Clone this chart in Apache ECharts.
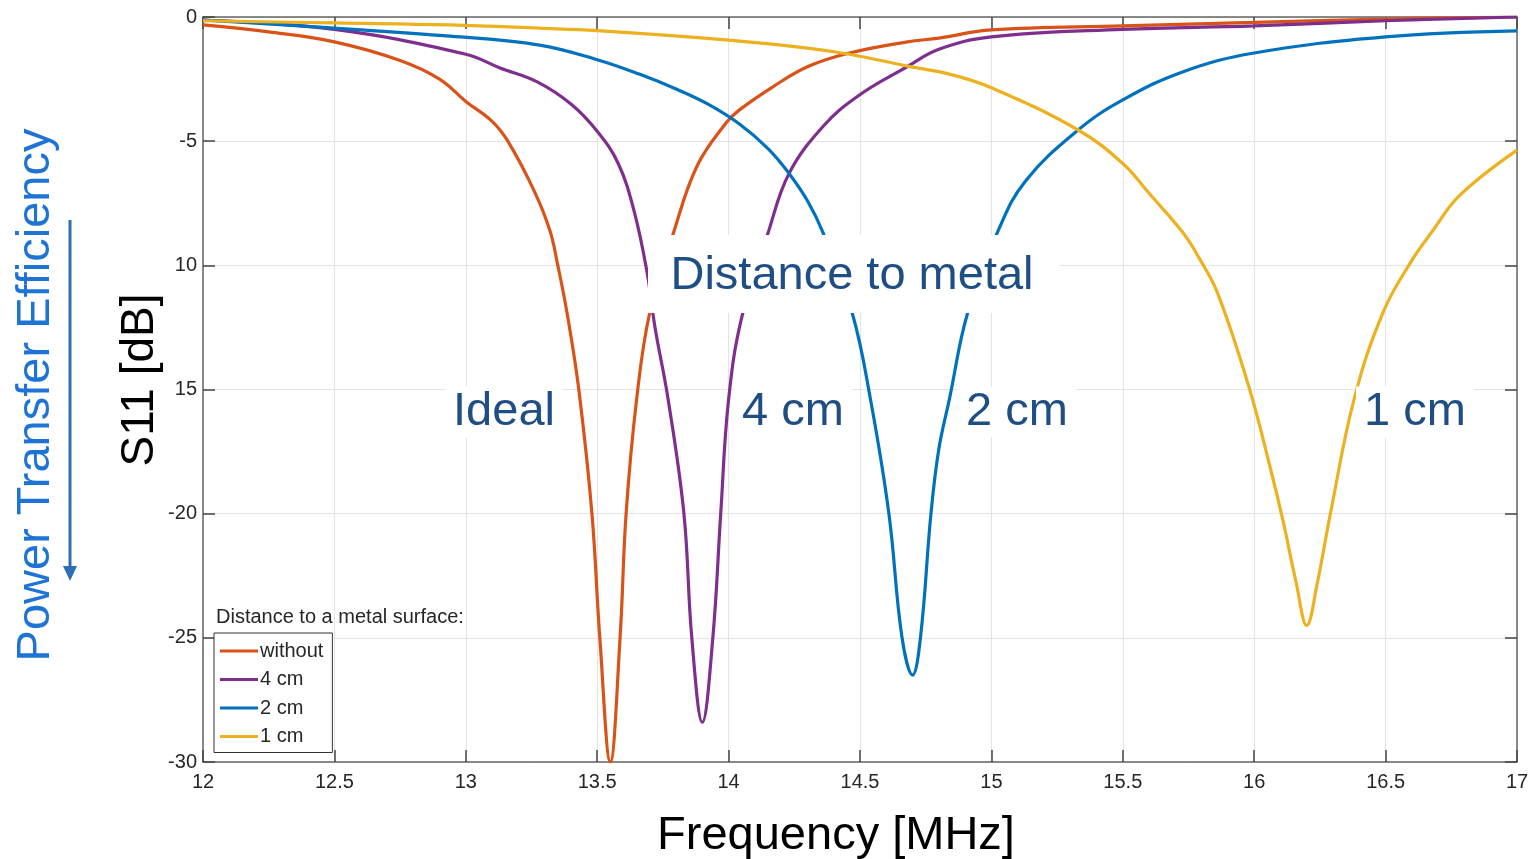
<!DOCTYPE html>
<html>
<head>
<meta charset="utf-8">
<script src="https://cdn.jsdelivr.net/npm/echarts@6/dist/echarts.min.js"></script>
<style>
  html, body { margin:0; padding:0; background:#fff; }
  #chart { width:1532px; height:859px; }
</style>
</head>
<body>
<div id="chart"></div>
<script>
// ticks
const xTickValues = [12, 12.5, 13, 13.5, 14, 14.5, 15, 15.5, 16, 16.5, 17]
const xTickLabels = ['12', '12.5', '13', '13.5', '14', '14.5', '15', '15.5', '16', '16.5', '17']
const yTickValues = [0, -5, -10, -15, -20, -25, -30]
const yTickLabels = ['0', '-5', '10', '15', '-20', '-25', '-30']

// without metal (ideal)
const freqWithout = [12.0, 12.25, 12.5, 12.75, 12.9, 13.0, 13.1, 13.16, 13.26, 13.32, 13.35, 13.385, 13.43, 13.48, 13.51, 13.55,
  13.587, 13.61, 13.65, 13.70, 13.79, 13.88, 13.99, 14.04, 14.17, 14.30, 14.46, 14.68, 14.80, 15.0, 15.5, 16.0, 16.5, 17.0]
const s11Without = [-0.32, -0.6, -1.0, -1.75, -2.5, -3.4, -4.2, -5.0, -7.0, -8.6, -10.0, -11.9, -15.0, -20.0, -25.0, -30.0,
  -25.0, -20.0, -15.4, -11.9, -8.7, -6.0, -4.27, -3.75, -2.8, -2.0, -1.45, -1.0, -0.85, -0.52, -0.36, -0.22, -0.08, 0]

// 4 cm
const freq4cm = [12.0, 12.5, 13.0, 13.13, 13.27, 13.4, 13.5, 13.58, 13.64, 13.69, 13.72, 13.77, 13.83, 13.86, 13.90,
  13.94, 13.97, 14.0, 14.05, 14.15, 14.23, 14.36, 14.49, 14.68, 14.80, 15.0, 15.5, 16.0, 16.5, 17.0]
const s11_4cm = [-0.12, -0.5, -1.5, -2.05, -2.6, -3.5, -4.6, -5.9, -7.8, -10.3, -12.5, -15.4, -20.0, -25.0, -28.4,
  -25.0, -20.0, -15.4, -12.1, -8.7, -6.3, -4.4, -3.2, -2.0, -1.3, -0.8, -0.5, -0.36, -0.15, 0]

// 2 cm
const freq2cm = [12.0, 12.5, 12.94, 13.28, 13.5, 13.66, 13.8, 13.92, 14.04, 14.15, 14.23, 14.30, 14.36, 14.47, 14.54, 14.61,
  14.66, 14.70, 14.73, 14.77, 14.80, 14.84, 14.91, 15.03, 15.13, 15.33, 15.5, 15.73, 16.0, 16.5, 17.0]
const s11_2cm = [-0.12, -0.45, -0.77, -1.13, -1.72, -2.3, -2.9, -3.5, -4.3, -5.3, -6.3, -7.4, -8.7, -11.9, -15.4, -20.0,
  -25.0, -26.5, -25.0, -20.0, -17.4, -15.4, -11.9, -8.5, -6.6, -4.55, -3.34, -2.2, -1.45, -0.8, -0.56]

// 1 cm
const freq1cm = [12.0, 12.5, 12.94, 13.28, 13.5, 14.0, 14.3, 14.46, 14.69, 14.84, 15.0, 15.33, 15.5, 15.6, 15.73, 15.79,
  15.86, 15.98, 16.06, 16.11, 16.16, 16.2, 16.24, 16.29, 16.38, 16.49, 16.6, 16.68, 16.78, 17.0]
const s11_1cm = [-0.15, -0.24, -0.32, -0.45, -0.55, -0.93, -1.25, -1.5, -2.0, -2.3, -2.85, -4.55, -5.9, -7.1, -8.7, -9.7,
  -11.1, -14.9, -18.1, -20.3, -22.8, -24.5, -22.8, -20.0, -15.4, -11.9, -9.8, -8.6, -7.2, -5.36]

const seriesNames = ['without', '4 cm', '2 cm', '1 cm']
const seriesColors = ['#D95319', '#7E2F8E', '#0072BD', '#EDB120']

const zip = (xs, ys) => xs.map((x, i) => [x, ys[i]])
const curves = [
  zip(freqWithout, s11Without),
  zip(freq4cm, s11_4cm),
  zip(freq2cm, s11_2cm),
  zip(freq1cm, s11_1cm)
]

const FONT = '"Liberation Sans", Arial, sans-serif'
const NOTE = '#1F4E85'

const chart = echarts.init(document.getElementById('chart'))

const axisCommon = {
  type: 'value',
  axisLine: { show: true, onZero: false, lineStyle: { color: '#666', width: 1.5 } },
  axisTick: { show: true, inside: true, length: 12, lineStyle: { color: '#444', width: 1.5 } }
}

chart.setOption({
  backgroundColor: '#fff',
  animation: false,
  grid: { left: 203, right: 15, top: 17, bottom: 97 },
  xAxis: [
    {
      ...axisCommon,
      min: 12, max: 17, interval: 0.5,
      axisLabel: {
        color: '#262626', fontSize: 20, fontFamily: FONT, margin: 10,
        showMinLabel: true, showMaxLabel: true,
        formatter: v => {
          const i = xTickValues.findIndex(t => Math.abs(t - v) < 1e-6)
          return i >= 0 ? xTickLabels[i] : ''
        }
      },
      splitLine: { show: true, lineStyle: { color: '#e3e3e3', width: 1 } }
    },
    {
      ...axisCommon,
      position: 'top',
      min: 12, max: 17, interval: 0.5,
      axisLabel: { show: false },
      splitLine: { show: false }
    }
  ],
  yAxis: [
    {
      ...axisCommon,
      min: -30, max: 0, interval: 5,
      axisLabel: {
        color: '#262626', fontSize: 20, fontFamily: FONT, margin: 6,
        formatter: v => {
          const i = yTickValues.findIndex(t => Math.abs(t - v) < 1e-6)
          return i >= 0 ? yTickLabels[i] : ''
        }
      },
      splitLine: { show: true, lineStyle: { color: '#e3e3e3', width: 1 } }
    },
    {
      ...axisCommon,
      position: 'right',
      min: -30, max: 0, interval: 5,
      axisLabel: { show: false },
      splitLine: { show: false }
    }
  ],
  legend: {
    data: seriesNames,
    orient: 'vertical',
    left: 214,
    top: 633,
    padding: [8, 9, 6, 6],
    itemWidth: 38,
    itemHeight: 14,
    itemGap: 8.5,
    borderColor: '#333',
    borderWidth: 1,
    backgroundColor: '#fff',
    icon: 'path://M0,5.5 L38,5.5 L38,8.5 L0,8.5 Z',
    textStyle: { fontSize: 20, fontFamily: FONT, color: '#262626', lineHeight: 20, padding: [0, 0, 0, -3] },
    z: 20
  },
  series: curves.map((d, i) => ({
    name: seriesNames[i],
    type: 'line',
    data: d,
    symbol: 'none',
    smooth: 0.4,
    clip: true,
    color: seriesColors[i],
    lineStyle: { width: 3.2, color: seriesColors[i] }
  })),
  graphic: [
    // y axis title
    {
      type: 'text', x: 140, y: 380, rotation: Math.PI / 2, z: 50,
      style: { text: 'S11 [dB]', font: '46px ' + FONT, fill: '#000', align: 'center', verticalAlign: 'middle' }
    },
    // efficiency hint
    {
      type: 'text', x: 36, y: 395, rotation: Math.PI / 2, z: 50,
      style: { text: 'Power Transfer Efficiency', font: '47px ' + FONT, fill: '#1E74D6', align: 'center', verticalAlign: 'middle' }
    },
    {
      type: 'line', z: 50,
      shape: { x1: 70, y1: 220, x2: 70, y2: 568 },
      style: { stroke: '#2E6EB5', lineWidth: 3 }
    },
    {
      type: 'polygon', z: 50,
      shape: { points: [[63, 566], [77, 566], [70, 581]] },
      style: { fill: '#2E6EB5' }
    },
    // x axis title
    {
      type: 'text', x: 836, y: 836, z: 50,
      style: { text: 'Frequency [MHz]', font: '47px ' + FONT, fill: '#000', align: 'center', verticalAlign: 'middle' }
    },
    // legend title
    {
      type: 'text', x: 216, y: 617, z: 50,
      style: { text: 'Distance to a metal surface:', font: '20px ' + FONT, fill: '#262626', align: 'left', verticalAlign: 'middle' }
    },
    // annotations
    {
      type: 'rect', z: 60,
      shape: { x: 648, y: 235, width: 412, height: 78 },
      style: { fill: '#fff' }
    },
    {
      type: 'text', x: 852, y: 276, z: 61,
      style: { text: 'Distance to metal', font: '47px ' + FONT, fill: NOTE, align: 'center', verticalAlign: 'middle' }
    },
    ...[['Ideal', 504], ['4 cm', 793], ['2 cm', 1017], ['1 cm', 1415]].map(([t, x]) => ({
      type: 'text', x: x, y: 412, z: 61,
      style: {
        text: t, font: '47px ' + FONT, fill: NOTE, align: 'center', verticalAlign: 'middle',
        backgroundColor: '#fff', padding: [2, 8, 2, 8]
      }
    }))
  ]
})
</script>
</body>
</html>
